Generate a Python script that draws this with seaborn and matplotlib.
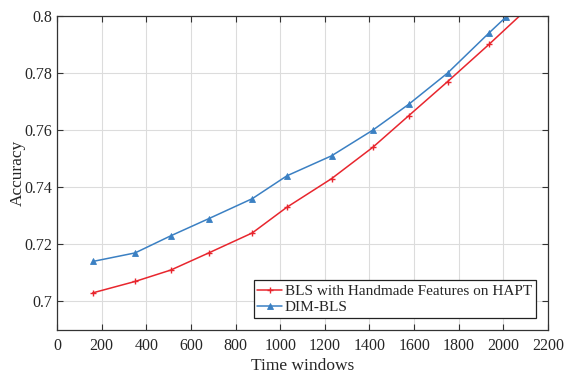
import numpy as np
import pandas as pd
import matplotlib.pyplot as plt
import seaborn as sns

# values
time_red = [160, 350, 510, 680, 875, 1030, 1230, 1415, 1575, 1750, 1935, 2100]
acc_red = [0.703, 0.707, 0.711, 0.717, 0.724, 0.733, 0.743, 0.754, 0.765, 0.777, 0.790, 0.802]
time_blue = [160, 350, 510, 680, 875, 1030, 1230, 1415, 1575, 1750, 1935, 2010]
acc_blue = [0.714, 0.717, 0.723, 0.729, 0.736, 0.744, 0.751, 0.760, 0.769, 0.780, 0.794, 0.7995]

red_name = "BLS with Handmade Features on HAPT"
blue_name = "DIM-BLS"

red_df = pd.DataFrame({"time": time_red, "acc": acc_red})
blue_df = pd.DataFrame({"time": time_blue, "acc": acc_blue})

sns.set_style("white")
plt.rcParams['font.family'] = ['Liberation Serif', 'DejaVu Serif']

fig = plt.figure(figsize=(5.71, 3.73), dpi=100)
ax = fig.add_axes([0.0998, 0.1153, 0.86, 0.842])

red = "#e8262e"
blue = "#3b80c3"
sns.lineplot(data=red_df, x="time", y="acc", color=red, marker="+",
             linewidth=1.1, markersize=5, markeredgewidth=1.0,
             markeredgecolor=red, ax=ax, label=red_name, sort=False)
sns.lineplot(data=blue_df, x="time", y="acc", color=blue, marker="^",
             linewidth=1.1, markersize=5, markeredgewidth=0.6,
             markeredgecolor=blue, ax=ax, label=blue_name, sort=False)

ax.set_xlim(0, 2200)
ax.set_ylim(0.69, 0.8)
ax.set_xticks(np.arange(0, 2201, 200))
ax.set_yticks([0.7, 0.72, 0.74, 0.76, 0.78, 0.8])
ax.set_yticklabels(["0.7", "0.72", "0.74", "0.76", "0.78", "0.8"])
ax.grid(True, color="#dcdcdc", linewidth=0.8)
ax.tick_params(axis="both", labelsize=11.5, direction="in", length=4, color="#333333",
               top=True, right=True, bottom=True, left=True)
ax.tick_params(axis="x", pad=6)
for s in ax.spines.values():
    s.set_color("#333333")
    s.set_linewidth(0.9)

ax.set_xlabel("Time windows", fontsize=12.5, labelpad=3)
ax.set_ylabel("Accuracy", fontsize=12.5, labelpad=-1)

leg = ax.legend(loc="lower right", fontsize=11, frameon=True, fancybox=False,
                edgecolor="#222222", borderpad=0.25, handlelength=1.6,
                handletextpad=0.2, labelspacing=0.15, borderaxespad=0.8,
                framealpha=1)
leg.get_frame().set_linewidth(0.9)

fig.savefig("out.png", dpi=100)
